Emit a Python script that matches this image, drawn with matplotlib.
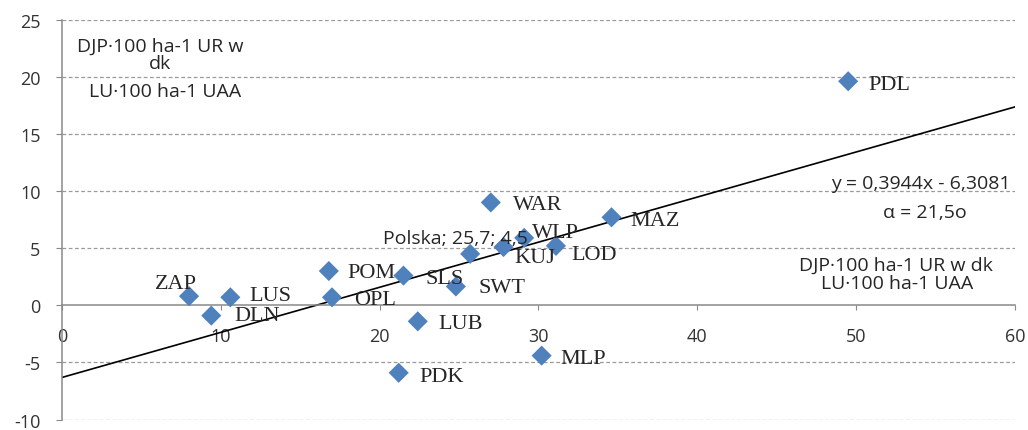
import matplotlib.pyplot as plt
import numpy as np

plt.rcParams['axes.unicode_minus'] = False

# Data: regions (x = DJP per 100 ha UR, y = change)
regions = ['ZAP', 'LUS', 'DLN', 'POM', 'OPL', 'SLS', 'LUB', 'SWT', 'PDK',
           'WAR', 'KUJ', 'WLP', 'LOD', 'MLP', 'MAZ', 'PDL']
x_vals = [8.0, 10.6, 9.4, 16.8, 17.0, 21.5, 22.4, 24.8, 21.2,
          27.0, 27.8, 29.1, 31.1, 30.2, 34.6, 49.5]
y_vals = [0.8, 0.7, -0.9, 3.0, 0.7, 2.6, -1.4, 1.65, -5.9,
          9.0, 5.1, 5.9, 5.2, -4.4, 7.7, 19.6]
poland_x, poland_y = 25.7, 4.5
slope, intercept = 0.3944, -6.3081
x_ticks = [0, 10, 20, 30, 40, 50, 60]
y_ticks = [-10, -5, 0, 5, 10, 15, 20, 25]

blue = '#4F81BD'
grey = '#898989'
txt = '#262626'
sans = 'Open Sans'

fig = plt.figure(figsize=(10.28, 4.31), dpi=100)
ax = fig.add_axes([0.0603, 0.024, 0.927, 0.9284])

ax.set_xlim(0, 60)
ax.set_ylim(-10, 25)

# grid
for yv in y_ticks:
    if yv != 0:
        ax.axhline(yv, color='#9a9a9a', lw=0.9, ls=(0, (3, 2)), zorder=0)

# trend line
xl = np.array([0, 60])
ax.plot(xl, slope * xl + intercept, color='black', lw=1.2, zorder=2)

# points
ax.scatter(x_vals + [poland_x], y_vals + [poland_y], marker='D', s=105,
           color=blue, edgecolors='none', zorder=3)

# label offsets from each point (data units)
label_off = {'ZAP': (-2.14, 1.37), 'LUS': (1.18, 0.34), 'DLN': (1.43, 0.2),
             'POM': (1.15, 0.13), 'OPL': (1.4, 0.0), 'SLS': (1.4, 0.0),
             'LUB': (1.3, 0.0), 'SWT': (1.4, 0.09), 'PDK': (1.3, -0.1),
             'WAR': (1.4, 0.04), 'KUJ': (0.7, -0.67), 'WLP': (0.5, 0.7),
             'LOD': (1.0, -0.5), 'MLP': (1.2, -0.03), 'MAZ': (1.2, -0.05),
             'PDL': (1.25, -0.1)}
for name, xv, yv in zip(regions, x_vals, y_vals):
    dx, dy = label_off[name]
    ax.text(xv + dx, yv + dy, name, family='Liberation Serif', fontsize=16,
            color=txt, va='center_baseline', ha='left', zorder=4)

ax.text(20.2, 6.1, 'Polska; 25,7; 4,5', family=sans,
        fontsize=14, color=txt, ha='left', va='center_baseline', zorder=4)

# annotations
ax.text(6.17, 22.87, 'DJP·100 ha-1 UR w', family=sans, fontsize=14,
        ha='center', va='center_baseline', color=txt)
ax.text(6.17, 21.4, 'dk', family=sans, fontsize=14,
        ha='center', va='center_baseline', color=txt)
ax.text(6.5, 18.96, 'LU·100 ha-1 UAA', family=sans, fontsize=14,
        ha='center', va='center_baseline', color=txt)
ax.text(59.7, 10.87, 'y = 0,3944x - 6,3081', family=sans, fontsize=14,
        ha='right', va='center_baseline', color=txt)
ax.text(54.35, 8.35, 'α = 21,5o', family=sans, fontsize=14,
        ha='center', va='center_baseline', color=txt)
ax.text(52.5, 3.74, 'DJP·100 ha-1 UR w dk', family=sans, fontsize=14,
        ha='center', va='center_baseline', color=txt)
ax.text(52.6, 2.09, 'LU·100 ha-1 UAA', family=sans, fontsize=14,
        ha='center', va='center_baseline', color=txt)

# axes styling
for side in ['top', 'right']:
    ax.spines[side].set_visible(False)
ax.spines['bottom'].set_position(('data', 0))
ax.spines['bottom'].set_color(grey)
ax.spines['left'].set_color(grey)
ax.spines['bottom'].set_linewidth(1.1)
ax.spines['left'].set_linewidth(1.1)
ax.set_xticks(x_ticks)
ax.set_yticks(y_ticks)
ax.tick_params(axis='x', direction='out', length=3.6, color=grey, pad=12,
               labelsize=13, labelcolor='#333333')
ax.tick_params(axis='y', direction='out', length=4.5, color=grey, pad=11,
               labelsize=13, labelcolor='#333333')
for lab in ax.get_xticklabels() + ax.get_yticklabels():
    lab.set_family(sans)

fig.savefig('out.png', dpi=100)
